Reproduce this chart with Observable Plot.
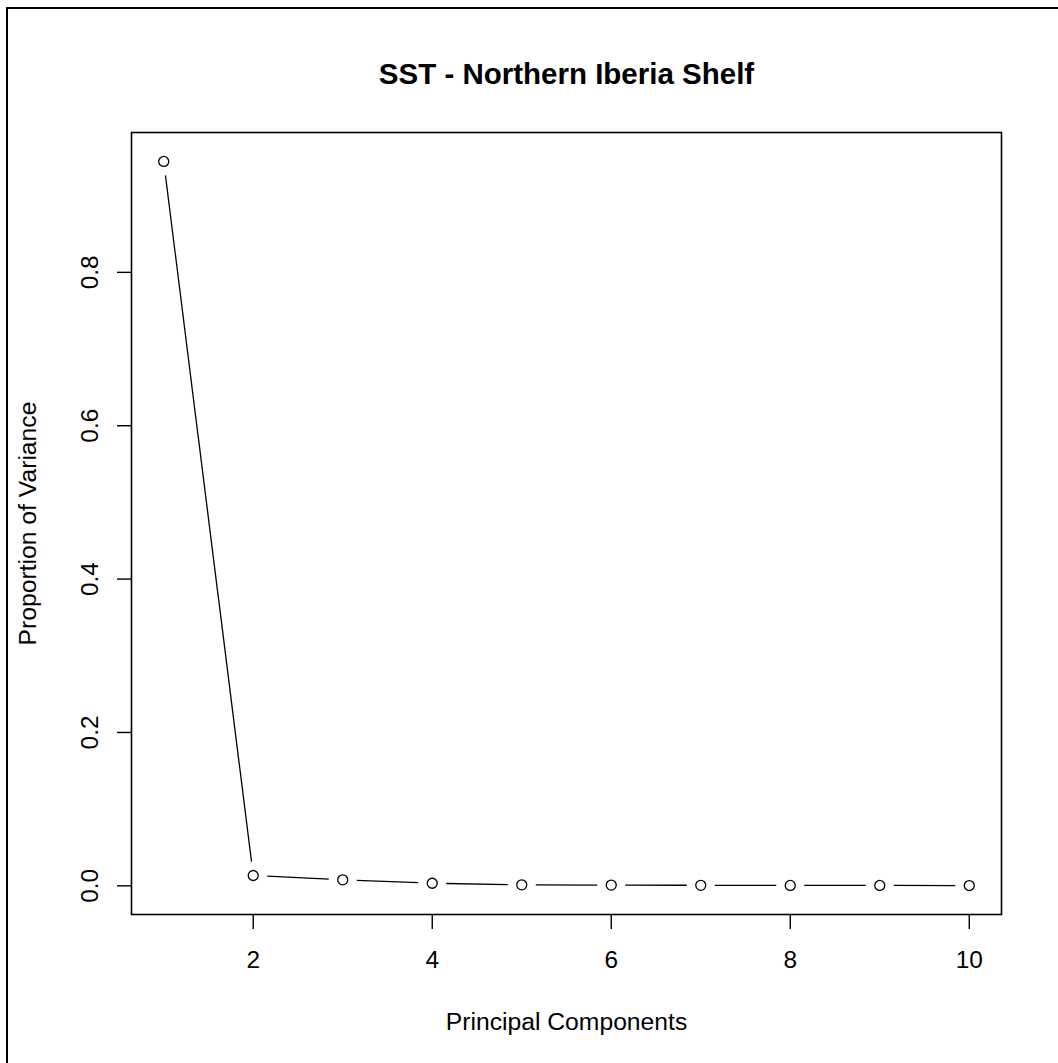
<!DOCTYPE html>
<html>
<head>
<meta charset="utf-8">
<script src="https://cdn.jsdelivr.net/npm/d3@7"></script>
<script src="https://cdn.jsdelivr.net/npm/@observablehq/plot@0.6"></script>
<style>
  html, body { margin: 0; padding: 0; background: #fff; }
  #wrap { position: relative; width: 1058px; height: 1063px; overflow: hidden; background: #fff; }
  #edge { position: absolute; left: 6px; top: 7px; right: -10px; bottom: -10px;
          border-left: 2px solid #000; border-top: 2px solid #000; pointer-events: none; }
  #chart { position: absolute; left: 0; top: 0; }
</style>
</head>
<body>
<div id="wrap">
  <div id="chart"></div>
  <div id="edge"></div>
</div>
<script>
// Scree plot: proportion of variance explained by each principal component
const titleText = "SST - Northern Iberia Shelf";
const xLabel = "Principal Components";
const yLabel = "Proportion of Variance";

const components = [1, 2, 3, 4, 5, 6, 7, 8, 9, 10];
const propVariance = [0.9446, 0.0135, 0.0078, 0.0034, 0.0013, 0.0010, 0.0007, 0.0006, 0.0005, 0.0004];

const xTicks = [2, 4, 6, 8, 10];
const yTicks = [0, 0.2, 0.4, 0.6, 0.8];

const rows = components.map((pc, i) => ({pc, v: propVariance[i]}));
const segments = d3.pairs(rows);

// base-graphics style 4% padding around the data range
function padded([lo, hi]) {
  const p = (hi - lo) * 0.04;
  return [lo - p, hi + p];
}

const chart = Plot.plot({
  width: 1058,
  height: 1063,
  marginLeft: 131,
  marginRight: 57,
  marginTop: 132,
  marginBottom: 149,
  style: {
    fontFamily: "'Liberation Sans', Arial, sans-serif",
    fontSize: "24px",
    color: "#000",
    background: "transparent",
    overflow: "visible"
  },
  x: {domain: padded(d3.extent(components))},
  y: {domain: padded(d3.extent(propVariance))},
  marks: [
    Plot.frame({stroke: "#000", strokeWidth: 1.6}),
    Plot.axisX({
      ticks: xTicks,
      tickSize: 15,
      tickPadding: 21,
      tickFormat: d3.format("d"),
      fontSize: 24.4,
      strokeWidth: 1.4,
      label: null
    }),
    Plot.axisY({
      ticks: yTicks,
      tickSize: 14,
      tickPadding: 20,
      tickRotate: -90,
      tickFormat: d3.format(".1f"),
      fontSize: 24.4,
      strokeWidth: 1.4,
      label: null
    }),
    // connecting segments, broken around each point
    Plot.arrow(segments, {
      x1: (d) => d[0].pc,
      y1: (d) => d[0].v,
      x2: (d) => d[1].pc,
      y2: (d) => d[1].v,
      headLength: 0,
      insetStart: 14,
      insetEnd: 14,
      stroke: "#000",
      strokeWidth: 1.3,
      strokeLinecap: "butt"
    }),
    Plot.dot(rows, {
      x: "pc",
      y: "v",
      r: 5,
      stroke: "#000",
      strokeWidth: 1.3,
      fill: "none"
    }),
    Plot.text([titleText], {
      frameAnchor: "top",
      lineAnchor: "bottom",
      dy: -49,
      fontSize: 29.5,
      fontWeight: "bold"
    }),
    Plot.text([xLabel], {
      frameAnchor: "bottom",
      lineAnchor: "bottom",
      dy: 115,
      fontSize: 24.7
    }),
    Plot.text([yLabel], {
      frameAnchor: "left",
      textAnchor: "middle",
      lineAnchor: "bottom",
      rotate: -90,
      dx: -96,
      fontSize: 24.7
    })
  ]
});

document.getElementById("chart").appendChild(chart);
</script>
</body>
</html>
